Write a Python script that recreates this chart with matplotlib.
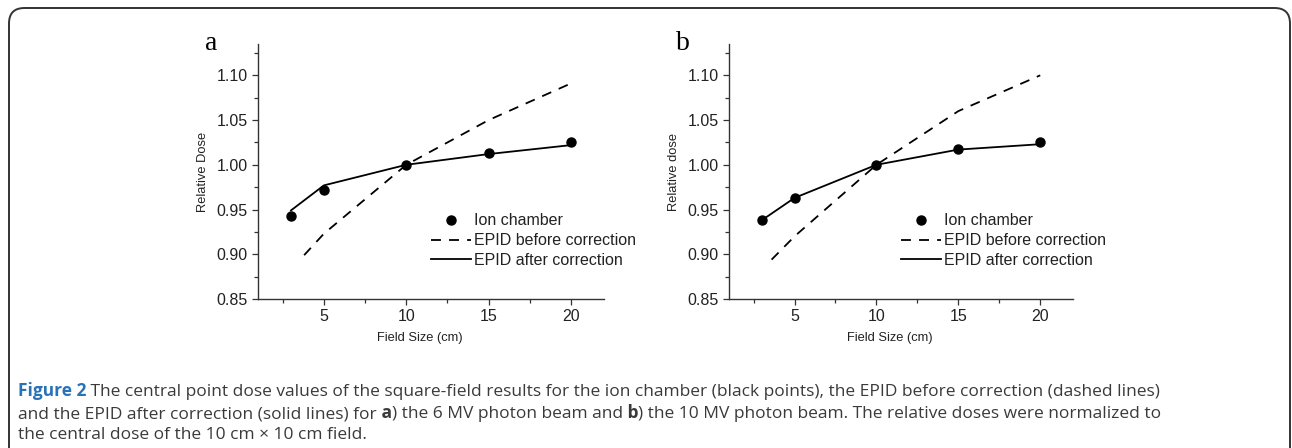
import matplotlib.pyplot as plt
from matplotlib.patches import FancyBboxPatch
from matplotlib.lines import Line2D

# field sizes (cm)
field = [3, 5, 10, 15, 20]

# panel a: 6 MV
ion_a = [0.943, 0.972, 1.000, 1.013, 1.026]
after_a = [0.949, 0.977, 1.000, 1.012, 1.022]
before_a_x = [3.8, 5, 10, 15, 20]
before_a = [0.899, 0.923, 1.000, 1.050, 1.091]

# panel b: 10 MV
ion_b = [0.938, 0.963, 1.000, 1.018, 1.026]
after_b = [0.938, 0.963, 1.000, 1.017, 1.023]
before_b_x = [3.6, 5, 10, 15, 20]
before_b = [0.894, 0.920, 1.000, 1.060, 1.100]

panels = [
    ("a", "Relative Dose", ion_a, after_a, before_a_x, before_a),
    ("b", "Relative dose", ion_b, after_b, before_b_x, before_b),
]

W, H = 1292, 448
fig = plt.figure(figsize=(W / 100, H / 100), dpi=100)
plt.rcParams['font.family'] = ['Liberation Sans', 'DejaVu Sans']

lefts = [258, 729]
rights = [604, 1073]
top, bottom = 44, 299
dash = (0, (5.5, 4.5))

for (letter, ylab, ion, after, bx, before), l, r in zip(panels, lefts, rights):
    ax = fig.add_axes([l / W, 1 - bottom / H, (r - l) / W, (bottom - top) / H])
    ax.plot(bx, before, color='black', lw=1.3, ls=dash)
    ax.plot(field, after, color='black', lw=1.3)
    ax.plot(field, ion, 'o', color='black', ms=6.5)

    ax.set_xlim(1, 22)
    ax.set_ylim(0.85, 1.135)
    ax.set_xticks([5, 10, 15, 20])
    ax.set_xticks([2.5, 7.5, 12.5, 17.5], minor=True)
    ax.set_yticks([0.85, 0.90, 0.95, 1.00, 1.05, 1.10])
    ax.set_yticks([0.875, 0.925, 0.975, 1.025, 1.075, 1.125], minor=True)
    ax.set_yticklabels(['0.85', '0.90', '0.95', '1.00', '1.05', '1.10'])
    ax.tick_params(which='both', direction='out', labelsize=11.5, width=0.9,
                   color='#333333', labelcolor='#222222')
    ax.tick_params(which='major', length=4)
    ax.tick_params(which='minor', length=3)
    for s in ['top', 'right']:
        ax.spines[s].set_visible(False)
    for s in ['left', 'bottom']:
        ax.spines[s].set_linewidth(1.0)
        ax.spines[s].set_color('#333333')

    ax.set_xlabel('Field Size (cm)', fontsize=9.3, color='#222222')
    ax.xaxis.set_label_coords(0.468, -0.13)
    ax.set_ylabel(ylab, fontsize=9.3, color='#222222', labelpad=5)

    handles = [
        Line2D([], [], ls='none', marker='o', color='black', ms=6.5),
        Line2D([], [], color='black', lw=1.3, ls=dash),
        Line2D([], [], color='black', lw=1.3),
    ]
    labels = ['Ion chamber', 'EPID before correction', 'EPID after correction']
    ax.legend(handles, labels, loc='upper left', bbox_to_anchor=(0.5, 0.336),
              frameon=False, fontsize=11.5, handlelength=2.5, handletextpad=0.22,
              labelspacing=0.3, borderpad=0, borderaxespad=0,
              labelcolor='#222222')

    fig.text((l - 53) / W, 1 - 50 / H, letter, fontsize=20,
             family='Liberation Serif', ha='left', va='baseline')

# rounded frame around the figure
frame = FancyBboxPatch((9 / W, -0.2), (1290 - 9) / W, 1.2 - 8 / H,
                       boxstyle='round,pad=0,rounding_size=0.012',
                       transform=fig.transFigure, fill=False,
                       ec='#333333', lw=1.4, mutation_aspect=W / H)
fig.add_artist(frame)

# caption built piece by piece
cap_font = ['Open Sans', 'DejaVu Sans']
cap_color = '#3a3a3a'
blue = '#2a72b8'
lines = [
    [("Figure 2", True, blue),
     (" The central point dose values of the square-field results for the ion chamber "
      "(black points), the EPID before correction (dashed lines)", False, cap_color)],
    [("and the EPID after correction (solid lines) for", False, cap_color),
     (" a", True, cap_color),
     (") the 6 MV photon beam and", False, cap_color),
     (" b", True, cap_color),
     (") the 10 MV photon beam. The relative doses were normalized to", False, cap_color)],
    [("the central dose of the 10 cm \u00d7 10 cm field.", False, cap_color)],
]
baselines = [396, 418, 439]
renderer = fig.canvas.get_renderer()
for pieces, yb in zip(lines, baselines):
    x = 18
    for txt, bold, col in pieces:
        t = fig.text(x / W, 1 - yb / H, txt, fontsize=12.5, family=cap_font,
                     fontweight='bold' if bold else 'normal', color=col,
                     ha='left', va='baseline')
        ext = t.get_window_extent(renderer=renderer)
        x = ext.x1

fig.savefig('out.png', dpi=100)
